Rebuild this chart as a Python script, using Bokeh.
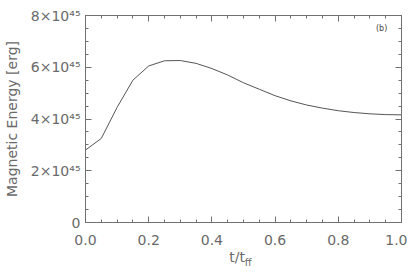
from bokeh.plotting import figure
from bokeh.models import LinearAxis, Range1d, Label, FixedTicker
from bokeh.embed import file_html
from bokeh.resources import INLINE

t = [0.0, 0.05, 0.10, 0.15, 0.20, 0.25, 0.30, 0.35, 0.40, 0.45, 0.50,
     0.55, 0.60, 0.65, 0.70, 0.75, 0.80, 0.85, 0.90, 0.95, 1.00]
energy = [2.80, 3.25, 4.45, 5.50, 6.05, 6.25, 6.26, 6.15, 5.95, 5.70, 5.40,
          5.15, 4.90, 4.70, 4.54, 4.42, 4.32, 4.25, 4.20, 4.17, 4.16]  # x 1e45 erg

xticks = [0.0, 0.2, 0.4, 0.6, 0.8, 1.0]
xlabels = ["0.0", "0.2", "0.4", "0.6", "0.8", "1.0"]
yticks = [0, 2, 4, 6, 8]
ylabels = ["0", "2×10⁴⁵", "4×10⁴⁵", "6×10⁴⁵", "8×10⁴⁵"]
xtitle_main, xtitle_sub = "t/t", "ff"

FONT = "DejaVu Sans"
GRAY = "#6a6a6a"
LINE = "#707070"

p = figure(width=407, height=271, output_backend="svg", toolbar_location=None,
           x_range=Range1d(0, 1), y_range=Range1d(0, 8),
           min_border_left=83, min_border_right=6, min_border_top=15, min_border_bottom=49)
p.grid.visible = False
p.outline_line_color = LINE
p.background_fill_color = "white"
p.border_fill_color = "white"

p.line(t, energy, line_color="#555555", line_width=1)

def style(ax, labels=True):
    ax.axis_line_color = LINE
    ax.major_tick_line_color = LINE
    ax.minor_tick_line_color = LINE
    ax.major_tick_in = 6
    ax.major_tick_out = 0
    ax.minor_tick_in = 3
    ax.minor_tick_out = 0
    ax.major_label_text_font = FONT
    ax.major_label_text_color = GRAY
    ax.major_label_text_font_size = "14px"
    if not labels:
        ax.major_label_text_font_size = "0px"
        ax.major_label_text_alpha = 0

xminor = [i * 0.05 for i in range(21)]
yminor = [i * 0.5 for i in range(17)]

p.xaxis.ticker = FixedTicker(ticks=xticks, minor_ticks=xminor)
p.xaxis.major_label_overrides = {v: s for v, s in zip(xticks, xlabels)}
p.xaxis.major_label_standoff = 12
style(p.xaxis[0])

p.yaxis.ticker = FixedTicker(ticks=yticks, minor_ticks=yminor)
p.yaxis.major_label_overrides = {v: s for v, s in zip(yticks, ylabels)}
p.yaxis.major_label_standoff = 5
p.yaxis.axis_label = "Magnetic Energy [erg]"
p.yaxis.axis_label_text_font = FONT
p.yaxis.axis_label_text_font_style = "normal"
p.yaxis.axis_label_text_color = GRAY
p.yaxis.axis_label_text_font_size = "14px"
p.yaxis.axis_label_standoff = 8
style(p.yaxis[0])

top = LinearAxis(ticker=FixedTicker(ticks=xticks, minor_ticks=xminor))
style(top, labels=False)
top.major_label_standoff = 0
p.add_layout(top, "above")
right = LinearAxis(ticker=FixedTicker(ticks=yticks, minor_ticks=yminor))
style(right, labels=False)
right.major_label_standoff = 0
p.add_layout(right, "right")

# x-axis title t/t_ff via two label-only axes below
ax_a = LinearAxis(ticker=FixedTicker(ticks=[0.48]),
                  major_label_overrides={0.48: xtitle_main})
ax_b = LinearAxis(ticker=FixedTicker(ticks=[0.515]),
                  major_label_overrides={0.515: xtitle_sub})
for ax, fs in ((ax_a, "14px"), (ax_b, "10px")):
    ax.axis_line_alpha = 0
    ax.major_tick_line_alpha = 0
    ax.minor_tick_line_alpha = 0
    ax.major_tick_in = 0
    ax.major_tick_out = 0
    ax.minor_tick_in = 0
    ax.minor_tick_out = 0
    ax.major_label_text_font = FONT
    ax.major_label_text_color = GRAY
    ax.major_label_text_font_size = fs
ax_a.major_label_standoff = 1
ax_b.major_label_standoff = -11
p.add_layout(ax_a, "below")
p.add_layout(ax_b, "below")

p.add_layout(Label(x=0.937, y=7.5, text="(b)", text_font=FONT, text_color="#444444",
                   text_font_size="8px", text_align="center", text_baseline="middle"))

open("out.html", "w").write(file_html(p, INLINE))
